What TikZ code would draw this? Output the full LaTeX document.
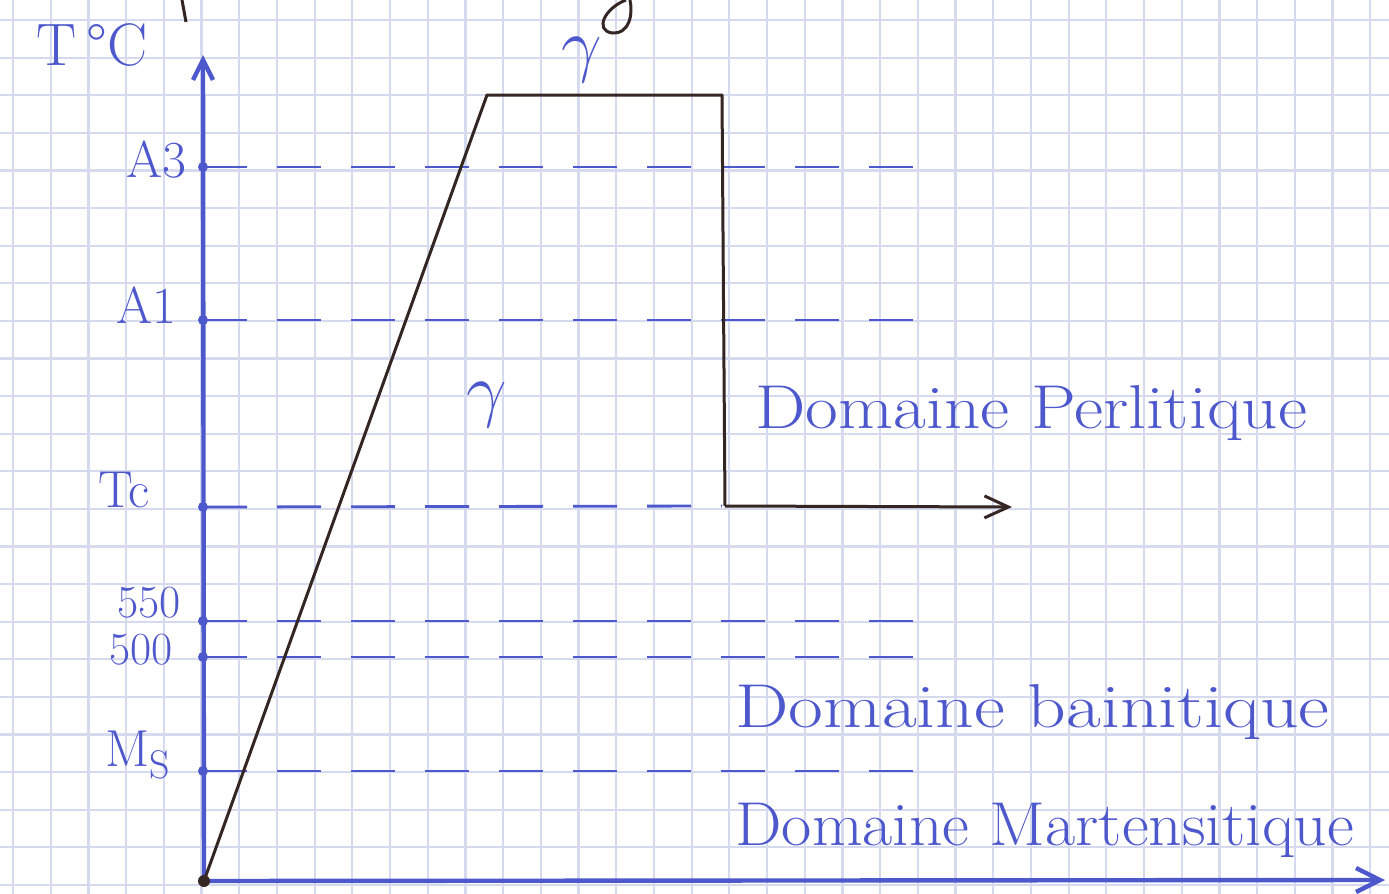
\documentclass[tikz,border=0pt]{standalone}
\usepackage{fontspec}
\usetikzlibrary{arrows.meta}
\definecolor{ink}{RGB}{78,88,205}
\definecolor{pen}{RGB}{52,38,34}
\definecolor{gridc}{RGB}{214,218,238}
\tikzset{
  gridline/.style={gridc, line width=1.1pt},
  axisline/.style={ink, line width=2.2pt},
  lvl/.style={ink, line width=1.4pt, dash pattern=on 22pt off 15pt},
  path/.style={pen, line width=1.5pt, line join=round},
  lab/.style={ink, inner sep=0pt, font=\fontsize{26}{30}\selectfont},
  dom/.style={ink, inner sep=0pt, font=\fontsize{31}{36}\selectfont, transform shape},
  gam/.style={ink, inner sep=0pt, font=\fontsize{24}{28}\selectfont, scale=1.45, transform shape},
  tickdot/.style={circle, fill=ink, inner sep=0pt, minimum size=5pt},
}
\begin{document}
\begin{tikzpicture}[x=0.5pt,y=-0.5pt]
\useasboundingbox (0,0) rectangle (1389,894);
\fill[white] (0,0) rectangle (1389,894);
% graph paper
\foreach \i in {0,...,36} {\draw[gridline] (13+\i*37.7,0) -- (13+\i*37.7,894);}
\foreach \j in {0,...,23} {\draw[gridline] (0,20+\j*37.6) -- (1389,20+\j*37.6);}
% axis points
\coordinate (O) at (204,881);
\coordinate (ytop) at (203,55);
\coordinate (xend) at (1385,880);
\node[tickdot] (A3) at (203,167) {};
\node[tickdot] (A1) at (203,320) {};
\node[tickdot] (Tc) at (203,507) {};
\node[tickdot] (p550) at (203,621) {};
\node[tickdot] (p500) at (203,657) {};
\node[tickdot] (Ms) at (203,771) {};
% ends of level lines
\coordinate (A3e) at (915,167);
\coordinate (A1e) at (915,320);
\coordinate (Tce) at (722,506);
\coordinate (p550e) at (940,621);
\coordinate (p500e) at (915,657);
\coordinate (Mse) at (925,771);
% axes
\draw[axisline, -{Straight Barb[length=10pt,width=10pt]}] (O) -- (ytop);
\draw[axisline, -{Straight Barb[length=12pt,width=12pt]}] (O) -- (xend);
% level dashes
\foreach \a in {A3,A1,Tc,p550,p500,Ms} {\draw[lvl] (\a.center) -- (\a e);}
% labels on axis
\node[lab, font=\fontsize{30}{34}\selectfont] (tlab) at (92,45) {T\,°C};
\node[lab] (a3lab) at (156,160) {A3};
\node[lab] (a1lab) at (146,305) {A1};
\node[lab] (tclab) at (124,490) {Tc};
\node[lab, font=\fontsize{23}{26}\selectfont] (l550) at (149,603) {550};
\node[lab, font=\fontsize{23}{26}\selectfont] (l500) at (141,650) {500};
\node[lab] (mslab) at (138,755) {M\raisebox{-6pt}{\fontsize{20}{24}\selectfont S}};
% cooling path
\coordinate (P1) at (487,95);
\coordinate (P2) at (722,95);
\coordinate (P3) at (725,506);
\coordinate (P4) at (1012,507);
\draw[path] (O) -- (P1) -- (P2) -- (P3);
\draw[path, -{Straight Barb[length=12pt,width=11pt]}] (P3) -- (P4);
\fill[pen] (O) circle (6);
% stray pen marks
\draw[pen, line width=1.5pt] (182,0) -- (186,22);
\draw[pen, line width=1.5pt] (626,0) .. controls (605,8) and (594,30) .. (612,33) .. controls (630,34) and (633,14) .. (630,0);
% gamma labels
\node[gam] (g1) at (582,60) {$\gamma$};
\node[gam] (g2) at (487,405) {$\gamma$};
% domains
\node[dom, anchor=base west, xscale=1.15] (perl) at (755,428) {Domaine Perlitique};
\node[dom, anchor=base west, xscale=1.22] (bain) at (735,727) {Domaine bainitique};
\node[dom, anchor=base west, xscale=1.06] (mart) at (735,845) {Domaine Martensitique};
\end{tikzpicture}
\end{document}
